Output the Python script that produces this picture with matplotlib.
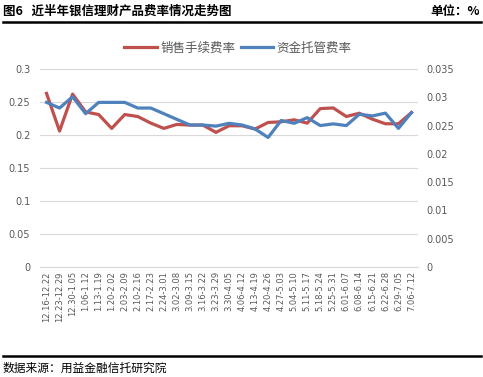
import matplotlib
matplotlib.use("Agg")
import matplotlib.pyplot as plt
from matplotlib.lines import Line2D

plt.rcParams['font.family'] = ['Noto Sans CJK SC', 'DejaVu Sans']

categories = ["12.16-12.22", "12.23-12.29", "12.30-1.05", "1.06-1.12", "1.13-1.19",
              "1.20-2.02", "2.03-2.09", "2.10-2.16", "2.17-2.23", "2.24-3.01",
              "3.02-3.08", "3.09-3.15", "3.16-3.22", "3.23-3.29", "3.30-4.05",
              "4.06-4.12", "4.13-4.19", "4.20-4.26", "4.27-5.03", "5.04-5.10",
              "5.11-5.17", "5.18-5.24", "5.25-5.31", "6.01-6.07", "6.08-6.14",
              "6.15-6.21", "6.22-6.28", "6.29-7.05", "7.06-7.12"]
sales_fee = [0.263, 0.206, 0.262, 0.235, 0.231, 0.210, 0.231, 0.228, 0.218, 0.210,
             0.216, 0.215, 0.215, 0.204, 0.214, 0.214, 0.209, 0.219, 0.220, 0.223,
             0.218, 0.240, 0.241, 0.228, 0.233, 0.224, 0.217, 0.217, 0.234]
custody_fee = [0.0291, 0.0281, 0.0301, 0.0271, 0.0291, 0.0291, 0.0291, 0.0281, 0.0281, 0.0271,
               0.0261, 0.0251, 0.0251, 0.0249, 0.0254, 0.0251, 0.0244, 0.0229, 0.0259, 0.0254,
               0.0264, 0.0250, 0.0253, 0.0250, 0.0270, 0.0267, 0.0272, 0.0245, 0.0273]
left_ticks = [0, 0.05, 0.1, 0.15, 0.2, 0.25, 0.3]
left_labels = ["0", "0.05", "0.1", "0.15", "0.2", "0.25", "0.3"]
right_ticks = [0, 0.005, 0.01, 0.015, 0.02, 0.025, 0.03, 0.035]
right_labels = ["0", "0.005", "0.01", "0.015", "0.02", "0.025", "0.03", "0.035"]
series_names = ["销售手续费率", "资金托管费率"]

RED = "#C0504D"
BLUE = "#4F81BD"
GRAY = "#595959"

W, H = 483, 377
fig = plt.figure(figsize=(W / 100, H / 100), dpi=100)
fig.patch.set_facecolor("white")

ax = fig.add_axes([40 / W, 1 - 267 / H, 378 / W, 198 / H])
ax2 = ax.twinx()

x = list(range(len(categories)))
ax.plot(x, sales_fee, color=RED, lw=2.3, solid_joinstyle="round", zorder=3)
ax2.plot(x, custody_fee, color=BLUE, lw=2.3, solid_joinstyle="round", zorder=3)

ax.set_xlim(-0.5, len(categories) - 0.5)
ax.set_ylim(0, 0.3)
ax2.set_ylim(0, 0.035)
ax.set_yticks(left_ticks)
ax.set_yticklabels(left_labels, color=GRAY, fontsize=7, family=['DejaVu Sans'])
ax2.set_yticks(right_ticks)
ax2.set_yticklabels(right_labels, color=GRAY, fontsize=7, family=['DejaVu Sans'])
ax.set_xticks(x)
ax.set_xticklabels(categories, rotation=90, color=GRAY, fontsize=6.0, family=['DejaVu Sans'])

ax.grid(axis="y", color="#D9D9D9", lw=0.8)
ax.set_axisbelow(True)
for a in (ax, ax2):
    for s in a.spines.values():
        s.set_visible(False)
    a.tick_params(length=0)
ax.spines["bottom"].set_visible(True)
ax.spines["bottom"].set_color("#D9D9D9")
ax.tick_params(axis="y", pad=7)
ax2.tick_params(axis="y", pad=6)
ax.tick_params(axis="x", pad=3)

# Legend
handles = [Line2D([0], [0], color=RED, lw=2.3), Line2D([0], [0], color=BLUE, lw=2.3)]
fig.legend(handles, series_names, loc="center", bbox_to_anchor=(238 / W, 1 - 48 / H),
           ncol=2, frameon=False, fontsize=9, handlelength=2.6, handletextpad=0.3,
           columnspacing=0.4, labelcolor=GRAY)

# Header
fig.text(3 / W, 1 - 11 / H, "图6   近半年银信理财产品费率情况走势图", fontsize=9, fontweight="bold",
         ha="left", va="center", color="black")
fig.text(480 / W, 1 - 11 / H, "单位：%", fontsize=9, fontweight="bold",
         ha="right", va="center", color="black")
fig.add_artist(Line2D([3 / W, 481 / W], [1 - 22 / H, 1 - 22 / H], color="black", lw=1.8))

# Footer
fig.add_artist(Line2D([3 / W, 481 / W], [1 - 356 / H, 1 - 356 / H], color="black", lw=1.8))
fig.text(3 / W, 1 - 368 / H, "数据来源：用益金融信托研究院", fontsize=8.5,
         ha="left", va="center", color="black")

fig.savefig("out.png", dpi=100)
